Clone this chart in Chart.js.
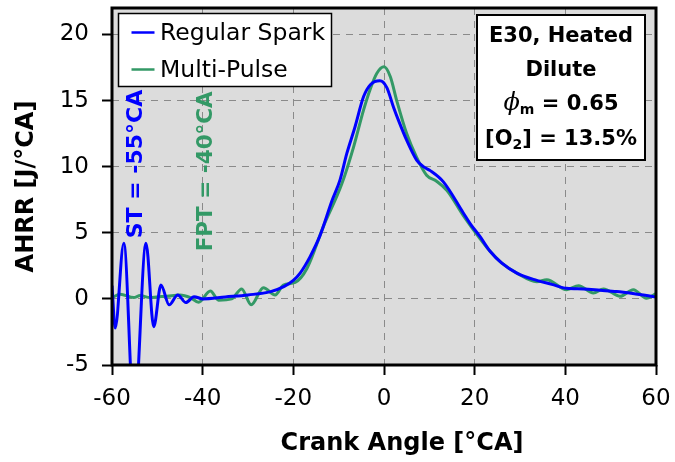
<!DOCTYPE html>
<html><head><meta charset="utf-8">
<script src="https://cdn.jsdelivr.net/npm/chart.js@4"></script>
<style>html,body{margin:0;padding:0;background:#fff}#wrap{width:675px;height:462px}</style>
</head><body><div id="wrap"><canvas id="c" width="675" height="462"></canvas></div>
<script>
// ---- data ----
const seriesNames = ['Regular Spark', 'Multi-Pulse'];
const blueAngle = [-60, -59.3, -57.4, -55.1, -52.5, -50.8, -49.2, -47.4, -45.5, -43.7, -41.9, -40, -35, -30, -25, -22, -20, -18.5, -16.3, -14.1, -11.5, -9.7, -8.2, -6.4, -4.5, -3, -0.9, 0.6, 2.1, 3.2, 5, 7.2, 8.7, 10.2, 13.1, 17.5, 19, 21.2, 23.4, 26, 29.3, 33.7, 37, 40.3, 44, 47.7, 51.3, 54.9, 60];
const blueAhrr  = [1.0, -2.2, 4.2, -9, 4.2, -2.1, 1.05, -0.45, 0.3, -0.28, 0.17, 0, 0.15, 0.3, 0.55, 0.95, 1.4, 1.95, 3.2, 4.8, 7.4, 9.0, 11.0, 13.0, 15.3, 16.2, 16.5, 16.0, 14.5, 13.5, 12.0, 10.5, 10.0, 9.7, 8.85, 6.5, 5.7, 4.7, 3.6, 2.7, 1.95, 1.4, 1.1, 0.8, 0.75, 0.65, 0.55, 0.4, 0.15];
const greenAngle = [-60, -58.2, -55.2, -53.8, -51.6, -50.1, -47.9, -45, -42.7, -40.9, -38.3, -36.5, -33.6, -31.4, -29.3, -26.6, -24, -22.2, -19.6, -17, -13.4, -9.3, -6.7, -4.5, -3, -1.6, 0, 1.4, 2.8, 5, 7.2, 9.4, 11.6, 13.9, 17.5, 21.2, 23.4, 26, 29.3, 33.7, 35.9, 40.3, 42.9, 46.2, 48.4, 52.1, 55, 57.9, 60];
const greenAhrr  = [0.1, 0.35, 0.1, 0.25, 0.1, 0.15, 0.2, 0.3, 0.1, -0.25, 0.6, -0.1, 0.0, 0.75, -0.45, 0.85, 0.3, 1.05, 1.25, 2.3, 5.45, 8.7, 11.5, 14.3, 15.9, 17.05, 17.55, 16.8, 15.0, 12.5, 10.7, 9.35, 8.9, 8.2, 6.3, 4.55, 3.6, 2.7, 1.95, 1.3, 1.45, 0.7, 1.0, 0.45, 0.75, 0.2, 0.7, 0.05, 0.4];
const xTickValues = [-60, -40, -20, 0, 20, 40, 60];
const yTickValues = [-5, 0, 5, 10, 15, 20];
const xTitle = 'Crank Angle [°CA]';
const yTitle = 'AHRR [J/°CA]';
const stLabel = 'ST = -55°CA';
const fptLabel = 'FPT = -40°CA';

// ---- styles ----
const BLUE = '#0000ff', GREEN = '#339966';
const F = 'DejaVu Sans';

const bgPlugin = {
  id: 'bg',
  beforeDraw(chart) {
    const a = chart.chartArea, c = chart.ctx;
    c.save(); c.fillStyle = '#dcdcdc'; c.fillRect(a.left, a.top, a.right - a.left, a.bottom - a.top); c.restore();
  }
};

function richText(c, cx, baseline, segs) {
  let w = 0;
  segs.forEach(s => { c.font = s.font; s.w = c.measureText(s.t).width; w += s.w; });
  let x = cx - w / 2;
  segs.forEach(s => { c.font = s.font; c.fillText(s.t, x, baseline + (s.dy || 0)); x += s.w; });
}

const overlayPlugin = {
  id: 'overlay',
  afterDraw(chart) {
    const a = chart.chartArea, c = chart.ctx;
    const xs = chart.scales.x, ys = chart.scales.y;
    c.save();
    // frame
    c.strokeStyle = '#000'; c.lineWidth = 3;
    c.strokeRect(a.left, a.top, a.right - a.left, a.bottom - a.top);

    // rotated annotations
    c.textAlign = 'center'; c.textBaseline = 'middle';
    [[stLabel, -55, 10.2, BLUE, 2, 22], [fptLabel, -40, 9.65, GREEN, 4, 21.5]].forEach(([t, xv, yv, col, dx, fs]) => {
      c.save();
      c.font = 'bold ' + fs + 'px ' + F;
      c.translate(xs.getPixelForValue(xv) + dx, ys.getPixelForValue(yv));
      c.rotate(-Math.PI / 2);
      c.fillStyle = col; c.fillText(t, 0, 0);
      c.restore();
    });

    // legend box
    const lx = a.left + 6.5, ly = a.top + 5.5;
    c.fillStyle = '#fff'; c.fillRect(lx, ly, 213, 73);
    c.strokeStyle = '#000'; c.lineWidth = 1.5; c.strokeRect(lx, ly, 213, 73);
    c.lineWidth = 2.5;
    [[seriesNames[0], BLUE, a.top + 24.5], [seriesNames[1], GREEN, a.top + 61.5]].forEach(([t, col, y]) => {
      c.strokeStyle = col; c.beginPath(); c.moveTo(a.left + 19.5, y); c.lineTo(a.left + 42.5, y); c.stroke();
      c.fillStyle = '#000'; c.font = '23.5px ' + F; c.textAlign = 'left'; c.textBaseline = 'middle';
      c.fillText(t, a.left + 48, y + 1);
    });

    // info box
    c.fillStyle = '#fff'; c.fillRect(477, a.top + 7, 168, 145);
    c.strokeStyle = '#000'; c.lineWidth = 2; c.strokeRect(477, a.top + 7, 168, 145);
    c.fillStyle = '#000'; c.textAlign = 'left'; c.textBaseline = 'alphabetic';
    const B = 'bold 21px ' + F, S = 'bold 14px ' + F;
    const cx = 561, t0 = a.top;
    richText(c, cx, t0 + 34, [{t: 'E30, Heated', font: B}]);
    richText(c, cx, t0 + 68, [{t: 'Dilute', font: B}]);
    richText(c, cx, t0 + 102, [{t: 'ϕ', font: 'italic 24px DejaVu Serif'}, {t: 'm', font: S, dy: 4}, {t: ' = 0.65', font: B}]);
    richText(c, cx, t0 + 137, [{t: '[O', font: B}, {t: '2', font: S, dy: 4}, {t: '] = 13.5%', font: B}]);

    // x-axis title (centred as in the reference, slightly right of the plot centre)
    c.font = 'bold 24px ' + F; c.textAlign = 'center'; c.textBaseline = 'middle';
    c.fillText(xTitle, (a.left + a.right) / 2 + 18, 444);
    c.restore();
  }
};

const toPts = (xa, ya) => xa.map((x, i) => ({x: x, y: ya[i]}));

new Chart(document.getElementById('c').getContext('2d'), {
  type: 'line',
  data: {
    datasets: [
      {label: seriesNames[0], data: toPts(blueAngle, blueAhrr), borderColor: BLUE, borderWidth: 3, pointRadius: 0, cubicInterpolationMode: 'monotone', fill: false},
      {label: seriesNames[1], data: toPts(greenAngle, greenAhrr), borderColor: GREEN, borderWidth: 3, pointRadius: 0, cubicInterpolationMode: 'monotone', fill: false}
    ]
  },
  options: {
    responsive: false, animation: false, devicePixelRatio: 1,
    layout: {padding: {top: 8, right: 19, left: 0, bottom: 0}},
    plugins: {legend: {display: false}, tooltip: {enabled: false}},
    scales: {
      x: {
        type: 'linear', min: -60, max: 60,
        afterBuildTicks: s => { s.ticks = xTickValues.map(v => ({value: v})); },
        afterFit: s => { s.height = 97; s.paddingLeft = 0; s.paddingRight = 0; },
        ticks: {font: {family: F, size: 23}, color: '#000', padding: 10, maxRotation: 0, autoSkip: false},
        grid: {color: '#8a8a8a', lineWidth: 1, tickColor: '#000', tickLength: 10, tickWidth: 2},
        border: {display: false, dash: [7, 6]},
        title: {display: false, text: xTitle}
      },
      y: {
        type: 'linear', min: -5, max: 22,
        afterBuildTicks: s => { s.ticks = yTickValues.map(v => ({value: v})); },
        afterFit: s => { s.width = 112; s.paddingTop = 0; s.paddingBottom = 0; },
        ticks: {font: {family: F, size: 23}, color: '#000', padding: 13, autoSkip: false},
        grid: {color: '#8a8a8a', lineWidth: 1, tickColor: '#000', tickLength: 10, tickWidth: 2},
        border: {display: false, dash: [7, 6]},
        title: {display: true, text: yTitle, color: '#000', font: {family: F, size: 24, weight: 'bold'}, padding: {top: 12, bottom: 0}}
      }
    }
  },
  plugins: [bgPlugin, overlayPlugin]
});
</script>
</body></html>
